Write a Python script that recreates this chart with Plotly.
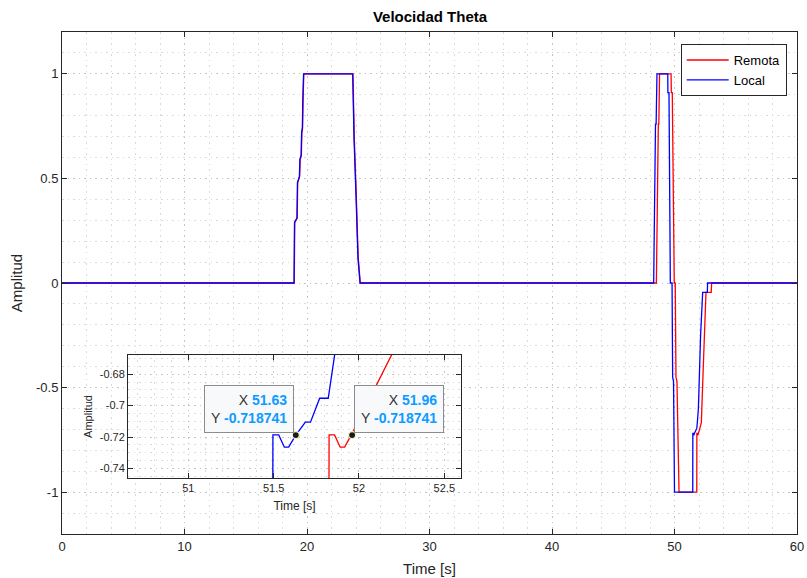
import plotly.graph_objects as go

# ---------------- data ----------------
t_remota = [0, 18.96, 19.0, 19.2, 19.24, 19.4, 19.44, 19.54, 19.58, 19.64, 19.68, 19.74,
            23.75, 23.86, 24.02, 24.18, 24.35,
            48.52, 48.68, 48.72, 48.78, 49.72, 49.74, 49.82, 49.98, 50.06, 50.12, 50.2, 50.37,
            51.82, 51.825, 51.857, 51.89, 51.916, 51.955, 52.19, 52.35, 52.57, 53.0, 53.03, 60]
v_remota = [0, 0, 0.29, 0.31, 0.48, 0.51, 0.59, 0.61, 0.72, 0.74, 0.88, 1.0,
            1.0, 0.69, 0.42, 0.12, 0,
            0, 0.76, 0.76, 1.0, 1.0, 0.91, 0.91, 0, 0, -0.45, -0.47, -1.0,
            -1.0, -0.7186, -0.7186, -0.7264, -0.7264, -0.718741, -0.668, -0.4, -0.045, -0.045, 0, 0]

t_local = [0, 18.94, 18.98, 19.18, 19.22, 19.38, 19.42, 19.52, 19.56, 19.62, 19.66, 19.72,
           23.73, 23.84, 24.0, 24.16, 24.33,
           48.3, 48.45, 48.5, 48.57, 49.45, 49.46, 49.55, 49.66, 49.8, 49.85, 49.92, 50.0,
           51.49, 51.496, 51.53, 51.563, 51.588, 51.63, 51.686, 51.716, 51.77, 51.82, 51.863,
           51.95, 52.13, 52.3, 52.68, 52.7, 60]
v_local = [0, 0, 0.29, 0.31, 0.48, 0.51, 0.59, 0.61, 0.72, 0.74, 0.88, 1.0,
           1.0, 0.69, 0.42, 0.12, 0,
           0, 0.76, 0.76, 1.0, 1.0, 0.91, 0.91, 0, 0, -0.45, -0.47, -1.0,
           -1.0, -0.7186, -0.7186, -0.7264, -0.7264, -0.718741, -0.7105, -0.7105, -0.6953, -0.6953, -0.668,
           -0.6, -0.25, -0.045, -0.045, 0, 0]

tip_x = [51.63, 51.96]
tip_y = [-0.718741, -0.718741]

main_xticks = [0, 10, 20, 30, 40, 50, 60]
main_yticks = [-1, -0.5, 0, 0.5, 1]
main_yticktext = ["-1", "-0.5", "0", "0.5", "1"]
inset_xticks = [51, 51.5, 52, 52.5]
inset_yticks = [-0.74, -0.72, -0.7, -0.68]
inset_yticktext = ["-0.74", "-0.72", "-0.7", "-0.68"]

# ---------------- figure ----------------
AX = "#262626"
GRID = "#c4c4c4"
MINOR = "#dadada"
DASH = "1.5px,4px"
FONT = "Liberation Sans, Arial, sans-serif"

fig = go.Figure()
fig.add_trace(go.Scatter(x=t_remota, y=v_remota, mode="lines", name="Remota",
                         line=dict(color="#ff0000", width=1.3), xaxis="x", yaxis="y"))
fig.add_trace(go.Scatter(x=t_local, y=v_local, mode="lines", name="Local",
                         line=dict(color="#0000ff", width=1.3), xaxis="x", yaxis="y"))
fig.add_trace(go.Scatter(x=t_remota, y=v_remota, mode="lines", showlegend=False,
                         line=dict(color="#ff0000", width=1.3), xaxis="x2", yaxis="y2"))
fig.add_trace(go.Scatter(x=t_local, y=v_local, mode="lines", showlegend=False,
                         line=dict(color="#0000ff", width=1.3), xaxis="x2", yaxis="y2"))
fig.add_trace(go.Scatter(x=tip_x, y=tip_y, mode="markers", showlegend=False,
                         marker=dict(color="#1a1a1a", size=7, line=dict(color="#f3efc0", width=1.2)),
                         xaxis="x2", yaxis="y2"))

def axis_common(size):
    return dict(showline=True, linecolor=AX, linewidth=1, mirror="ticks",
                ticks="inside", ticklen=5, tickcolor=AX, tickwidth=1,
                tickfont=dict(size=size, color=AX, family=FONT),
                showgrid=True, gridcolor=GRID, griddash=DASH, gridwidth=1,
                zeroline=False, automargin=False)

xa = axis_common(13)
xa.update(range=[0, 60], domain=[0, 1], tickvals=main_xticks,
          minor=dict(dtick=2, tick0=0, showgrid=True, gridcolor=MINOR, griddash=DASH, gridwidth=1),
          title=dict(text="Time [s]", font=dict(size=15, color=AX, family=FONT), standoff=10))
ya = axis_common(13)
ya.update(range=[-1.2, 1.2], domain=[0, 1], tickvals=main_yticks, ticktext=main_yticktext,
          minor=dict(dtick=0.1, tick0=0, showgrid=True, gridcolor=MINOR, griddash=DASH, gridwidth=1),
          title=dict(text="Amplitud", font=dict(size=15, color=AX, family=FONT), standoff=9))
xa2 = axis_common(11)
xa2.update(range=[50.647, 52.598], domain=[0.0898, 0.5429], anchor="y2", tickvals=inset_xticks,
           minor=dict(dtick=0.1, tick0=51, showgrid=True, gridcolor=MINOR, griddash=DASH, gridwidth=1),
           title=dict(text="Time [s]", font=dict(size=12, color=AX, family=FONT), standoff=8))
ya2 = axis_common(11)
ya2.update(range=[-0.746, -0.6678], domain=[0.1116, 0.3566], anchor="x2",
           tickvals=inset_yticks, ticktext=inset_yticktext,
           minor=dict(dtick=0.005, tick0=-0.74, showgrid=True, gridcolor=MINOR, griddash=DASH, gridwidth=1),
           title=dict(text="Amplitud", font=dict(size=11, color=AX, family=FONT), standoff=4))

TIPBLUE = "#0f9bff"
annots = []
for (tx, ty, anchor, sx) in [(tip_x[0], tip_y[0], "right", -2), (tip_x[1], tip_y[1], "left", 2)]:
    txt = (f"X <b><span style='color:{TIPBLUE}'>{tx:.2f}</span></b><br>"
           f"Y <b><span style='color:{TIPBLUE}'>{ty:.6f}</span></b>")
    annots.append(dict(x=tx, y=ty, xref="x2", yref="y2", text=txt, showarrow=False,
                       xanchor=anchor, yanchor="bottom", xshift=sx, yshift=2, align="right",
                       font=dict(size=14, color="#333333", family=FONT),
                       bgcolor="#f8f9fb", bordercolor="#8c8c8c", borderwidth=1, borderpad=6))

fig.update_layout(
    width=807, height=578,
    margin=dict(l=62, r=10, t=32, b=44, autoexpand=False),
    paper_bgcolor="white", plot_bgcolor="white",
    font=dict(family=FONT, color=AX),
    title=dict(text="<b>Velocidad Theta</b>", x=430 / 807, xanchor="center",
               y=1 - 17 / 578, yanchor="middle", yref="container",
               font=dict(size=15, color="#000000", family=FONT)),
    xaxis=xa, yaxis=ya, xaxis2=xa2, yaxis2=ya2,
    legend=dict(x=0.986, y=0.976, xanchor="right", yanchor="top",
                bgcolor="white", bordercolor=AX, borderwidth=1, itemwidth=42,
                font=dict(size=13, color="#000000", family=FONT), tracegroupgap=0),
    annotations=annots,
    showlegend=True,
)

fig.write_html("out.html")
